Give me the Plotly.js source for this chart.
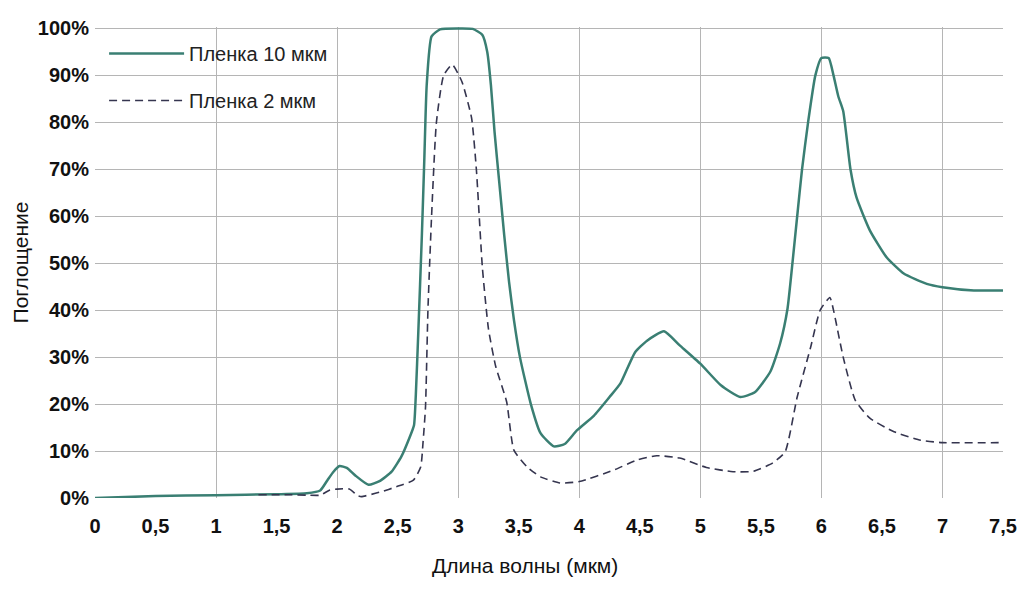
<!DOCTYPE html>
<html>
<head>
<meta charset="utf-8">
<script src="https://cdn.plot.ly/plotly-3.0.1.min.js"></script>
<style>
  body { margin: 0; background: #fff; }
  #chart { width: 1024px; height: 600px; }
</style>
</head>
<body>
<div id="chart"></div>
<script>
// wavelength (mkm) / absorption (%)

let waveThick = [0, 0.5, 1.0, 1.5, 1.75, 1.86, 1.92, 1.97, 2.02, 2.08, 2.15, 2.26, 2.35, 2.45, 2.53, 2.6,
  2.635, 2.65, 2.67, 2.70, 2.72, 2.74, 2.78, 2.85, 3.0, 3.12, 3.2, 3.24, 3.27, 3.3, 3.34, 3.38,
  3.42, 3.46, 3.51, 3.6, 3.68, 3.79, 3.88, 3.98, 4.12, 4.25, 4.34, 4.46, 4.56, 4.70, 4.83, 5.0,
  5.17, 5.33, 5.45, 5.58, 5.66, 5.72, 5.76, 5.80, 5.84, 5.89, 5.95, 6.0, 6.06, 6.10, 6.14, 6.18,
  6.24, 6.29, 6.40, 6.54, 6.68, 6.87, 7.0, 7.26, 7.5];
let absThick = [0, 0.4, 0.6, 0.8, 1.0, 1.6, 3.8, 5.6, 6.8, 6.4, 4.8, 2.8, 3.6, 5.6, 8.8, 13,
  15.5, 22, 35, 56, 72, 88, 98.3, 99.8, 100, 99.9, 98.6, 95, 88, 78, 67, 56,
  46, 38, 30, 20, 13.8, 11, 11.5, 14.4, 17.5, 21.5, 24.4, 31, 33.5, 35.5, 32.5, 28.6,
  24, 21.5, 22.5, 27, 33, 40.3, 49.8, 60, 70, 80, 90, 93.7, 93.7, 90, 85.5, 82.4,
  70, 64, 57, 51.2, 47.8, 45.6, 44.9, 44.2, 44.2];

let waveThin = [1.35, 1.6, 1.75, 1.86, 1.94, 2.0, 2.1, 2.17, 2.2, 2.36, 2.49, 2.63, 2.69, 2.71, 2.73,
  2.75, 2.78, 2.82, 2.88, 2.95, 3.03, 3.11, 3.15, 3.2, 3.25, 3.31, 3.4, 3.46, 3.57, 3.68, 3.84,
  4.0, 4.28, 4.48, 4.64, 4.83, 5.05, 5.27, 5.44, 5.6, 5.70, 5.80, 5.91, 5.99, 6.07, 6.10, 6.18,
  6.28, 6.40, 6.60, 6.82, 7.0, 7.5];
let absThin = [0.7, 0.7, 0.6, 0.6, 1.7, 1.9, 1.9, 0.5, 0.3, 1.3, 2.4, 3.8, 6.6, 12, 19.4,
  40, 60, 80, 90, 92.3, 88.7, 81, 70, 49, 36, 28, 20.5, 10.2, 6.6, 4.5, 3.2,
  3.5, 5.9, 8.1, 9.0, 8.5, 6.5, 5.6, 5.7, 7.5, 9.8, 21.5, 32, 40, 42.7, 40, 30,
  20.8, 17, 14.1, 12.3, 11.8, 11.8];

let names = ['Пленка 10 мкм', 'Пленка 2 мкм'];
let xTitle = 'Длина волны (мкм)';
let yTitle = 'Поглощение';

var data = [
  {
    x: waveThick, y: absThick,
    mode: 'lines', type: 'scatter',
    name: names[0], legendgroup: 'a',
    line: { color: '#3a7f73', width: 2.5, shape: 'spline', smoothing: 0.5 }
  },
  {
    x: waveThin, y: absThin,
    mode: 'lines', type: 'scatter',
    name: names[1], legendgroup: 'b',
    line: { color: '#35354f', width: 1.6, dash: '8px,5px', shape: 'spline', smoothing: 0.5 }
  },
  // empty trace so the integer grid axis is drawn
  { x: [0], y: [0], xaxis: 'x2', mode: 'markers', marker: { opacity: 0 }, showlegend: false, hoverinfo: 'skip' }
];

var boldTicks = { family: 'Liberation Sans, Arial, sans-serif', size: 20, color: '#111', weight: 'bold' };

var layout = {
  width: 1024,
  height: 600,
  margin: { l: 95, r: 21, t: 27, b: 102 },
  paper_bgcolor: '#fff',
  plot_bgcolor: '#fff',
  separators: ', ',
  font: { family: 'Liberation Sans, Arial, sans-serif', color: '#111' },
  showlegend: true,
  legend: {
    x: 0.01, y: 0.985, xanchor: 'left', yanchor: 'top',
    bgcolor: 'rgba(0,0,0,0)',
    font: { size: 20, color: '#222' },
    itemwidth: 75,
    traceorder: 'grouped',
    tracegroupgap: 18
  },
  xaxis: {
    range: [0, 7.5],
    dtick: 0.5,
    tick0: 0,
    showgrid: false,
    zeroline: false,
    ticks: '',
    ticklabelstandoff: 14,
    tickfont: boldTicks
  },
  xaxis2: {
    overlaying: 'x',
    range: [0, 7.5],
    dtick: 1,
    tick0: 0,
    showgrid: true,
    gridcolor: '#b5b5b5',
    gridwidth: 1,
    zeroline: false,
    showticklabels: false,
    ticks: ''
  },
  yaxis: {
    range: [0, 100.3],
    dtick: 10,
    ticksuffix: '%',
    showgrid: true,
    gridcolor: '#b5b5b5',
    gridwidth: 1,
    zeroline: false,
    ticks: '',
    ticklabelstandoff: 5,
    tickfont: boldTicks,
    title: { text: yTitle, font: { size: 21, color: '#111' }, standoff: 3 }
  },
  annotations: [
    {
      text: xTitle, xref: 'paper', yref: 'paper',
      x: 0.474, y: -0.115, xanchor: 'center', yanchor: 'top',
      showarrow: false, font: { size: 21, color: '#111' }
    }
  ]
};

Plotly.newPlot('chart', data, layout, { displayModeBar: false });
</script>
</body>
</html>
